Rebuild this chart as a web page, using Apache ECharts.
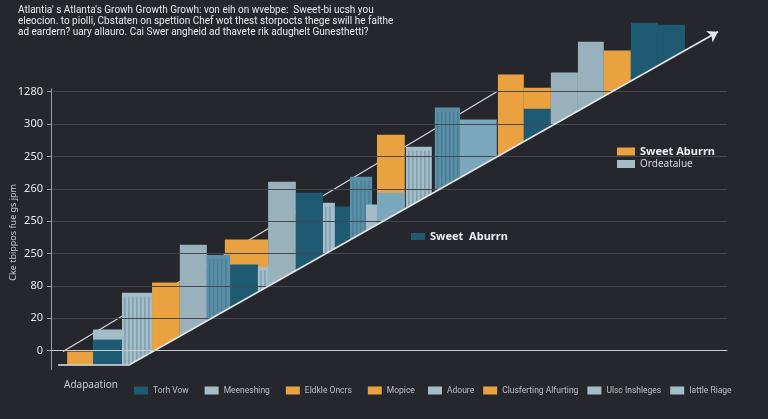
<!DOCTYPE html>
<html lang="en">
<head>
<meta charset="UTF-8">
<title>Atlanta Growth</title>
<script src="https://cdn.jsdelivr.net/npm/echarts@6/dist/echarts.min.js"></script>
<style>
    *{margin:0;padding:0;}
    body{background:#25272d;}
    #main{width:768px;height:419px;}
</style>
</head>
<body>
<div id="main"></div>
<script>
// tick labels on the left axis, bottom to top (as printed)
var yLabels = ['0', '20', '80', '250', '250', '260', '250', '300', '1280'];
// slots of the bottom axis
var xSlots = ['1','2','3','4','5','6','7','8','9','10','11','12','13','14','15','16','17','18'];

// buildings: left edge, right edge (in slot units), top value, tone, windows or not
var bldStart = [4.63, 0.43, 1.12, 1.12, 1.89, 2.69, 3.43, 4.15, 4.77, 5.51, 5.78, 6.52, 7.24, 7.56, 7.96, 8.39, 8.68, 8.68, 9.45, 10.22, 10.89, 11.90, 12.59, 12.59, 13.31, 14.03, 14.72, 15.44, 16.16];
var bldEnd   = [5.78, 1.12, 1.89, 1.89, 2.69, 3.43, 4.15, 4.77, 5.51, 6.23, 6.52, 7.24, 7.56, 7.96, 8.55, 8.68, 9.42, 9.42, 10.14, 10.89, 11.87, 12.59, 13.31, 13.31, 14.03, 14.72, 15.44, 16.16, 16.88];
var bldTop   = [3.43, -0.03, 0.65, 0.34, 1.79, 2.10, 3.27, 2.95, 2.66, 2.59, 5.22, 4.88, 4.57, 4.45, 5.37, 4.51, 6.67, 4.88, 6.30, 7.51, 7.14, 8.53, 8.12, 7.47, 8.59, 9.54, 9.27, 10.13, 10.07];
var bldTone  = ['orange','orange','light','dark','light','orange','grey','teal','dark','light','grey','dark','light','dark','teal','light','orange','mid','light','teal','mid','orange','orange','dark','grey','grey','orange','dark','dark'];
var bldWin   = [0, 0, 0, 0, 1, 0, 0, 1, 0, 1, 0, 0, 1, 0, 1, 0, 0, 0, 1, 1, 0, 0, 0, 0, 0, 0, 0, 0, 0];

// lower trend line (the arrow) and upper guide line
var lowU = [0.19, 2.10, 17.76];
var lowV = [-0.43, -0.43, 9.85];
var upU = [0.32, 11.87];
var upV = [-0.03, 8.0];

// numbers written along the arrow
var diagLabels = ['250','250','20','290','130','480','350','130','40','480','190','250','8','10','6','250','4'];
var diagU = [3.35, 3.97, 4.90, 5.91, 6.71, 7.51, 8.17, 9.90, 10.14, 10.92, 11.74, 12.57, 13.39, 14.40, 15.26, 16.05, 16.83];
var diagV = [-0.03, 0.43, 1.11, 1.73, 2.29, 2.78, 3.21, 4.29, 4.57, 5.03, 5.56, 6.05, 6.64, 7.32, 7.88, 8.37, 8.90];

// legend entries (bottom row is printed in two runs)
var legendNamesA = ['Torh Vow', 'Meeneshing', 'Eldkle Oncrs', 'Mopice'];
var legendNamesB = ['Adoure', 'Clusferting Alfurting', 'Ulsc Inshleges', 'Iattle Riage'];
var legendTones = ['dark', 'light', 'orange', 'orange', 'light', 'orange', 'light', 'light'];
var keyNames = ['Sweet Aburrn', 'Ordeatalue', 'Sweet  Aburrn'];
var keyTones = ['orange', 'light', 'dark'];

var tones = {
    orange: '#e9a23f',
    dark: '#1f5a73',
    light: '#a5bdc9',
    grey: '#98b1bd',
    teal: '#5b8fa7',
    mid: '#7aa7bc'
};
var bg = '#25272d';
var gridColor = '#44474e';

var myChart = echarts.init(document.getElementById('main'));

var ticks = [];
for (var i = 0; i < yLabels.length; i++) ticks.push(i);

// where a horizontal value crosses the arrow line
function crossU(v) {
    for (var k = 1; k < lowU.length; k++) {
        if (v <= lowV[k] && lowV[k] > lowV[k - 1]) {
            return lowU[k - 1] + (v - lowV[k - 1]) / (lowV[k] - lowV[k - 1]) * (lowU[k] - lowU[k - 1]);
        }
    }
    return lowU[lowU.length - 1];
}

var gridFull = [], gridLow = [];
for (var i = 0; i < ticks.length; i++) {
    gridFull.push([{coord: [0, ticks[i]]}, {coord: [18, ticks[i]]}]);
    gridLow.push([{coord: [crossU(ticks[i]), ticks[i]]}, {coord: [18, ticks[i]]}]);
}

var bldData = [];
for (var i = 0; i < bldStart.length; i++) bldData.push([bldStart[i], bldEnd[i], bldTop[i]]);

var fillData = [];
for (var i = 0; i < lowU.length; i++) fillData.push([lowU[i], lowV[i]]);
fillData.push([18, lowV[lowV.length - 1]]);

var labelData = [];
for (var i = 0; i < diagLabels.length; i++) labelData.push({name: diagLabels[i], value: [diagU[i], diagV[i]]});
labelData.push({name: 'vits. clstes', value: [10.94, 4.42], label: {fontSize: 9, color: '#c9cdd2'}});

var series = [
    // background grid lines + y axis line
    {
        type: 'line', xAxisIndex: 1, data: [], z: 1, silent: true,
        markLine: {
            silent: true, symbol: 'none', label: {show: false},
            lineStyle: {color: gridColor, width: 1, type: 'solid'},
            data: gridFull.concat([[{coord: [0, -0.6], lineStyle: {color: '#9a9ea4'}}, {coord: [0, 8.1]}]])
        }
    },
    // upper guide line, behind buildings
    {
        type: 'line', xAxisIndex: 1, z: 1, silent: true, symbol: 'none',
        data: [[upU[0], upV[0]], [upU[1], upV[1]]],
        lineStyle: {color: '#d6d9dc', width: 1.2}
    },
    // buildings
    {
        type: 'custom', xAxisIndex: 1, z: 2, silent: true,
        data: bldData,
        encode: {x: [0, 1], y: 2},
        renderItem: function (params, api) {
            var i = params.dataIndex;
            var p0 = api.coord([api.value(0), api.value(2)]);
            var p1 = api.coord([api.value(1), -0.6]);
            var w = p1[0] - p0[0], h = p1[1] - p0[1];
            var kids = [{
                type: 'rect',
                shape: {x: p0[0], y: p0[1], width: w, height: h},
                style: {fill: tones[bldTone[i]]}
            }];
            if (bldWin[i]) {
                // thin window columns
                for (var x = p0[0] + 3; x < p0[0] + w - 2; x += 4) {
                    kids.push({type: 'line', shape: {x1: x, y1: p0[1] + 4, x2: x, y2: p1[1]},
                        style: {stroke: 'rgba(31,90,115,0.45)', lineWidth: 1}});
                }
            }
            return {type: 'group', children: kids};
        }
    },
    // dark area under the arrow, hides building feet
    {
        type: 'line', xAxisIndex: 1, z: 3, silent: true, symbol: 'none',
        data: fillData,
        lineStyle: {width: 0, opacity: 0},
        areaStyle: {color: bg, opacity: 1, origin: 'start'}
    },
    // grid lines under the arrow + the arrow itself
    {
        type: 'line', xAxisIndex: 1, data: [], z: 4, silent: true,
        markLine: {
            silent: true, symbol: 'none', label: {show: false},
            lineStyle: {color: gridColor, width: 1, type: 'solid'},
            data: gridLow.concat([
                [{coord: [lowU[0], lowV[0]], lineStyle: {color: '#e4e6e8', width: 1.6}}, {coord: [lowU[1], lowV[1]]}],
                [{coord: [lowU[1], lowV[1]], symbol: 'none', lineStyle: {color: '#e4e6e8', width: 1.6}},
                 {coord: [lowU[2], lowV[2]], symbol: 'arrow', symbolSize: 10}]
            ])
        }
    },
    // numbers along the arrow
    {
        type: 'scatter', xAxisIndex: 1, z: 5, silent: true,
        symbolSize: 1, itemStyle: {opacity: 0},
        data: labelData,
        label: {show: true, position: 'inside', formatter: '{b}', color: '#e2e4e6', fontSize: 11, fontFamily: 'Noto Sans'}
    }
];

// empty series only to feed the legends
var allKeys = legendNamesA.concat(legendNamesB, keyNames);
var allTones = legendTones.concat(keyTones);
for (var i = 0; i < allKeys.length; i++) {
    series.push({type: 'bar', name: allKeys[i], data: [], itemStyle: {color: tones[allTones[i]]}});
}

var bottomLegend = {
    top: 381, itemWidth: 14, itemHeight: 8, icon: 'rect',
    textStyle: {color: '#b9c0c6', fontSize: 8.5, fontFamily: 'Roboto'}
};

var option = {
    backgroundColor: bg,
    textStyle: {fontFamily: 'Noto Sans'},
    title: {
        text: "Atlantia' s Atlanta's Growh Growth Growh: von eih on wvebpe:  Sweet-bi ucsh you\n" +
              "eleocion. to piolli, Cbstaten on spettion Chef wot thest storpocts thege swill he falthe\n" +
              "ad eardern? uary allauro. Cai Swer angheid ad thavete rik adughelt Gunesthetti?",
        left: 13, top: 0,
        textStyle: {color: '#e6e8ea', fontSize: 10, fontFamily: 'Roboto', fontWeight: 'normal', lineHeight: 11}
    },
    grid: {left: 51, right: 41, top: 14, bottom: 49},
    legend: [
        echarts.util.extend({data: legendNamesA, left: 129, itemGap: 16}, bottomLegend),
        echarts.util.extend({data: legendNamesB, left: 423, itemGap: 9}, bottomLegend),
        {
            data: [
                {name: 'Sweet Aburrn', textStyle: {fontSize: 11, fontWeight: 'bold', color: '#eceef0'}},
                {name: 'Ordeatalue', textStyle: {fontSize: 10, color: '#d0d4d8'}}
            ],
            orient: 'vertical', left: 612, top: 141, itemGap: 2, itemWidth: 18, itemHeight: 8, icon: 'rect'
        },
        {
            data: [{name: 'Sweet  Aburrn', textStyle: {fontSize: 11, fontWeight: 'bold', color: '#eceef0'}}],
            left: 406, top: 226, itemWidth: 14, itemHeight: 7, icon: 'rect'
        }
    ],
    graphic: [
        {type: 'text', left: 64, top: 380, style: {text: 'Adapaation', fill: '#c4cad0', fontSize: 10, fontFamily: 'Noto Sans'}},
        {type: 'text', left: 9, top: 184, rotation: Math.PI / 2,
         style: {text: 'Cke tbippos fue gs jpm', fill: '#c4cad0', fontSize: 9, fontFamily: 'Noto Sans'}},
        {type: 'line', shape: {x1: 380, y1: 234, x2: 404, y2: 234}, style: {stroke: '#8d949b', lineWidth: 1}}
    ],
    xAxis: [
        {
            type: 'category', data: xSlots, z: 10,
            axisLine: {lineStyle: {color: '#c9ccd0', width: 1.2}},
            axisTick: {inside: true, length: 7, lineStyle: {color: '#c9ccd0'}},
            axisLabel: {show: false}
        },
        {type: 'value', min: 0, max: 18, show: false}
    ],
    yAxis: {
        type: 'value', min: -0.6, max: 10.4,
        axisLine: {show: false},
        splitLine: {show: false},
        axisTick: {show: true, customValues: ticks, length: 4, lineStyle: {color: '#9a9ea4'}},
        axisLabel: {
            customValues: ticks, margin: 8, color: '#e6e8ea', fontSize: 11,
            formatter: function (v) { return yLabels[Math.round(v)]; }
        }
    },
    series: series
};
myChart.setOption(option);
</script>
</body>
</html>
